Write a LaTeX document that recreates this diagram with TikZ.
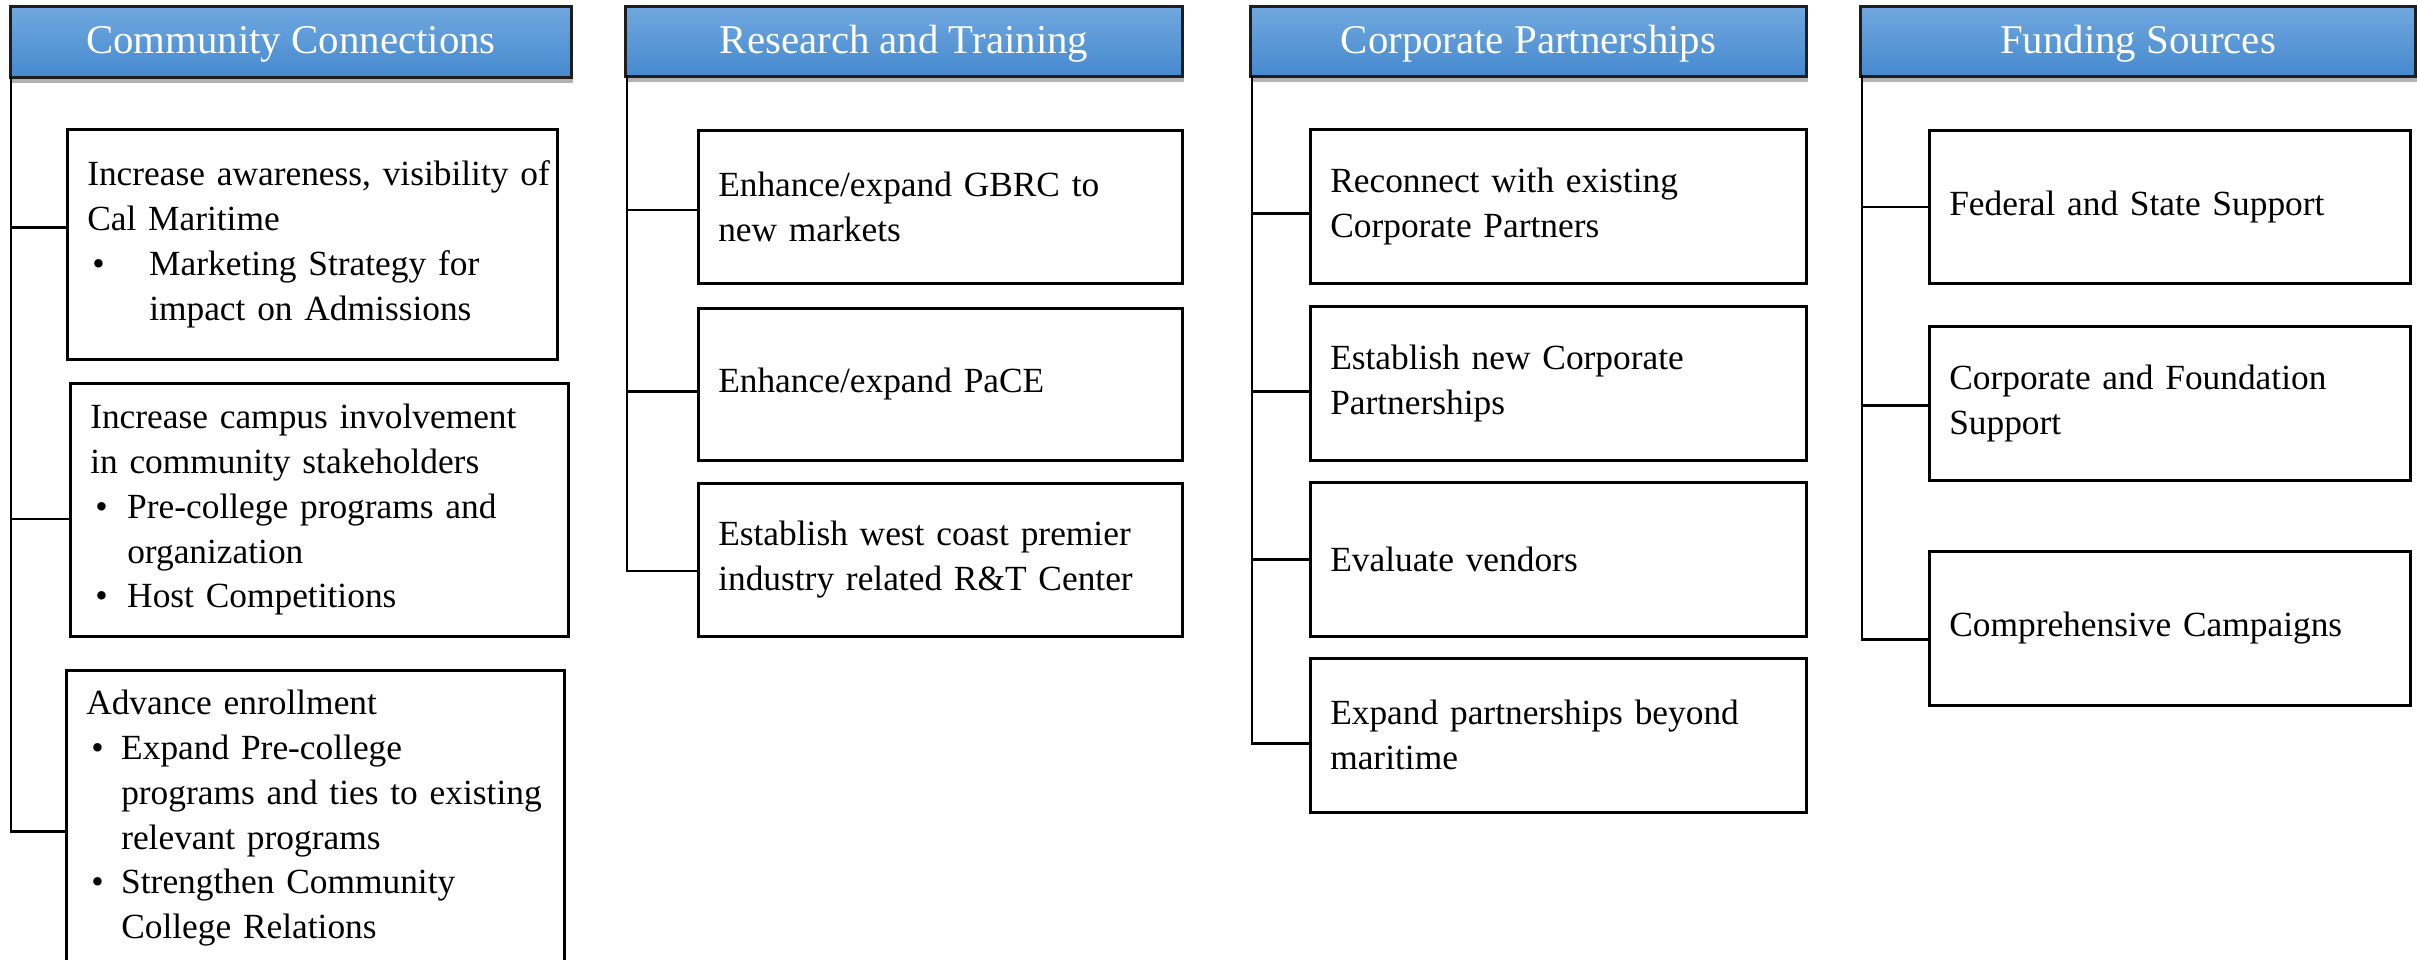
\documentclass[tikz,border=0pt]{standalone}
\usepackage{fontspec}
\setmainfont{Liberation Serif}
\usetikzlibrary{shadows,calc}
\definecolor{hdtop}{HTML}{70A8DF}
\definecolor{hdbot}{HTML}{4589CE}
\definecolor{hdline}{HTML}{1E1E1E}
\setlength{\parindent}{0pt}
\setlength{\parskip}{0pt}
\newcommand\wideline{\rightskip=-16bp plus 1fil\relax}
\newcommand\bitem[2]{\par\hangindent=#1\hangafter=1\noindent\makebox[#1][l]{\hspace{5bp}\textbullet}#2\par}
\begin{document}
\begin{tikzpicture}[x=1bp,y=-1bp,
  hdr/.style={draw=hdline, line width=3bp, top color=hdtop, bottom color=hdbot,
    text=white, font=\fontsize{41}{48}\selectfont, anchor=north west, inner sep=0pt,
    text height=23bp, text depth=0pt,
    drop shadow={shadow xshift=1bp, shadow yshift=-5bp, opacity=0.3, fill=black}},
  itm/.style={draw=black, line width=2.5bp, anchor=north west, align=left,
    inner xsep=20bp, inner ysep=0pt, font=\fontsize{35.5}{45}\selectfont},
  conn/.style={draw=black, line width=2.5bp}]
\useasboundingbox (0,0) rectangle (2417,959);

% ---------- headers ----------
\node[hdr, minimum width=561bp, minimum height=71bp] (h1) at (9,5) {Community Connections};
\node[hdr, minimum width=557bp, minimum height=70bp] (h2) at (624,5) {Research and Training};
\node[hdr, minimum width=556bp, minimum height=70bp] (h3) at (1249,5) {Corporate Partnerships};
\node[hdr, minimum width=555bp, minimum height=70bp] (h4) at (1859,5) {Funding Sources};

% ---------- column 1 ----------
\node[itm, text width=450bp, minimum height=230bp] (b11) at (66,128) {\wideline
  Increase awareness, visibility of\newline Cal Maritime
  \bitem{62bp}{Marketing Strategy for\newline impact on Admissions}};
\node[itm, text width=458bp, minimum height=253bp] (b12) at (69,382) {\wideline
  Increase campus involvement\newline in community stakeholders
  \bitem{37bp}{Pre-college programs and\newline organization}
  \bitem{37bp}{Host Competitions}};
\node[itm, text width=458bp, minimum height=296bp] (b13) at (65,669) {\wideline
  Advance enrollment
  \bitem{35bp}{Expand Pre-college\newline programs and ties to existing\newline relevant programs}
  \bitem{35bp}{Strengthen Community\newline College Relations}};

% ---------- column 2 ----------
\node[itm, text width=444bp, minimum height=153bp] (b21) at (697,129) {\wideline Enhance/expand GBRC to\newline new markets};
\node[itm, text width=444bp, minimum height=152bp] (b22) at (697,307) {\wideline Enhance/expand PaCE};
\node[itm, text width=444bp, minimum height=153bp] (b23) at (697,482) {\wideline Establish west coast premier\newline industry related R\&T Center};

% ---------- column 3 ----------
\node[itm, text width=456bp, minimum height=154bp] (b31) at (1309,128) {\wideline Reconnect with existing\newline Corporate Partners};
\node[itm, text width=456bp, minimum height=154bp] (b32) at (1309,305) {\wideline Establish new Corporate\newline Partnerships};
\node[itm, text width=456bp, minimum height=154bp] (b33) at (1309,481) {\wideline Evaluate vendors};
\node[itm, text width=456bp, minimum height=154bp] (b34) at (1309,657) {\wideline Expand partnerships beyond\newline maritime};

% ---------- column 4 ----------
\node[itm, text width=441bp, minimum height=153bp] (b41) at (1928,129) {\wideline Federal and State Support};
\node[itm, text width=441bp, minimum height=154bp] (b42) at (1928,325) {\wideline Corporate and Foundation\newline Support};
\node[itm, text width=441bp, minimum height=154bp] (b43) at (1928,550) {\wideline Comprehensive Campaigns};

% ---------- trunks ----------
\coordinate (t1) at (11,76);
\coordinate (t2) at (627,75);
\coordinate (t3) at (1252,75);
\coordinate (t4) at (1862,75);

% connector points on the boxes
\coordinate (c11) at ($(b11.west)+(0,-17)$);
\coordinate (c12) at ($(b12.west)+(0,9)$);
\coordinate (c13) at ($(b13.west)+(0,13)$);
\coordinate (c21) at ($(b21.west)+(0,3)$);
\coordinate (c22) at ($(b22.west)+(0,7)$);
\coordinate (c23) at ($(b23.west)+(0,11)$);
\coordinate (c31) at ($(b31.west)+(0,7)$);
\coordinate (c32) at ($(b32.west)+(0,8)$);
\coordinate (c33) at ($(b33.west)+(0,0)$);
\coordinate (c34) at ($(b34.west)+(0,8)$);
\coordinate (c41) at ($(b41.west)+(0,0)$);
\coordinate (c42) at ($(b42.west)+(0,2)$);
\coordinate (c43) at ($(b43.west)+(0,11)$);

\draw[conn] (t1) |- (c13);
\draw[conn] (c11) -- (t1 |- c11);
\draw[conn] (c12) -- (t1 |- c12);

\draw[conn] (t2) |- (c23);
\draw[conn] (c21) -- (t2 |- c21);
\draw[conn] (c22) -- (t2 |- c22);

\draw[conn] (t3) |- (c34);
\draw[conn] (c31) -- (t3 |- c31);
\draw[conn] (c32) -- (t3 |- c32);
\draw[conn] (c33) -- (t3 |- c33);

\draw[conn] (t4) |- (c43);
\draw[conn] (c41) -- (t4 |- c41);
\draw[conn] (c42) -- (t4 |- c42);
\end{tikzpicture}
\end{document}
